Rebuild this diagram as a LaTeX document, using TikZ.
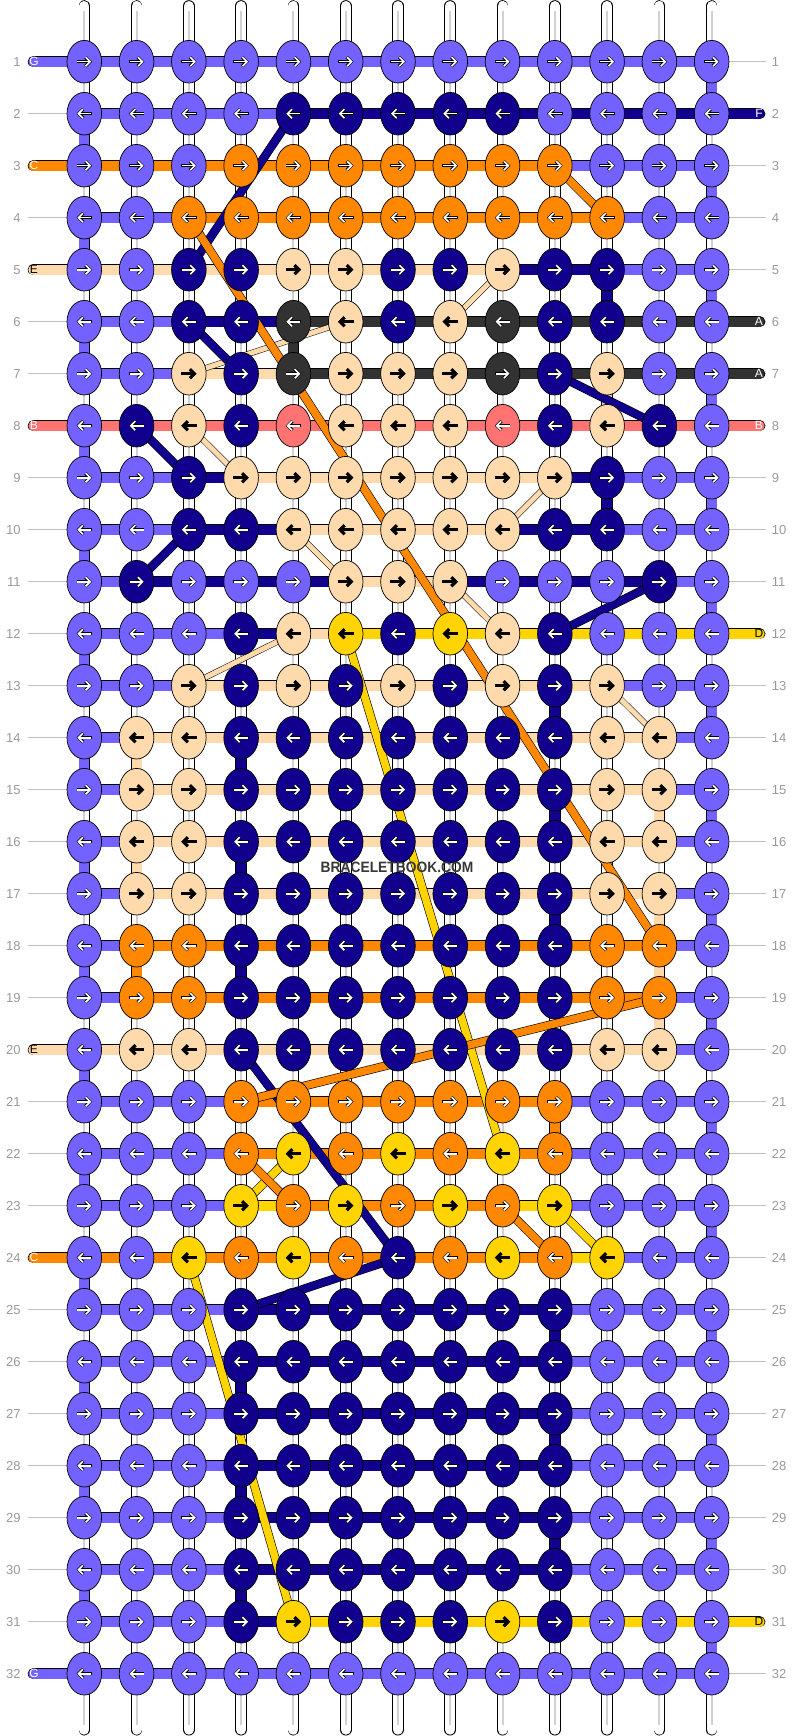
\documentclass[tikz,border=0pt]{standalone}
\usepackage{fontspec}
\setmainfont{Liberation Sans}
\usetikzlibrary{calc,arrows.meta,shapes.geometric}
\definecolor{bbP}{RGB}{115,98,255}
\definecolor{bbD}{RGB}{17,0,142}
\definecolor{bbO}{RGB}{255,136,0}
\definecolor{bbE}{RGB}{255,218,172}
\definecolor{bbK}{RGB}{50,50,50}
\definecolor{bbR}{RGB}{255,115,115}
\definecolor{bbY}{RGB}{255,212,0}
\colorlet{arrP}{white}
\colorlet{arrD}{white}
\colorlet{arrO}{white}
\colorlet{arrK}{white}
\colorlet{arrR}{white}
\colorlet{arrE}{black}
\colorlet{arrY}{black}
\tikzset{
  tube/.style={draw=black, line width=0.8pt, double=white, double distance=10pt, line cap=round},
  bar/.style={draw=black, line width=0.6pt, double distance=10pt},
  thread/.style={draw=black, line width=0.6pt, double distance=7.5pt},
  thinthread/.style={draw=black, line width=0.5pt, double distance=5pt, double=bbE},
  bead/.style={ellipse, draw=black, line width=0.7pt, minimum width=34.6pt, minimum height=42.6pt, inner sep=0pt},
  arrout/.style={draw=black, line width=3.2pt, -{Straight Barb[length=4.5pt,width=9pt]}},
  arrin/.style={line width=1.6pt, -{Straight Barb[length=4.5pt,width=9pt]}},
  guide/.style={draw=black!25, line width=0.8pt},
  rownum/.style={text=black!40, font=\fontsize{13}{13}\selectfont, inner sep=0pt},
  endtag/.style={font=\fontsize{12}{12}\selectfont, inner sep=0pt},
}
% row / knot colours / segment colours
\def\rowdata{%
1/{P,P,P,P,P,P,P,P,P,P,P,P,P}/{P,P,P,P,P,P,P,P,P,P,P,P},%
2/{P,P,P,P,D,D,D,D,D,P,P,P,P}/{P,P,P,P,D,D,D,D,D,D,D,D},%
3/{P,P,P,O,O,O,O,O,O,O,P,P,P}/{O,O,O,O,O,O,O,O,O,P,P,P},%
4/{P,P,O,O,O,O,O,O,O,O,O,P,P}/{P,P,O,O,O,O,O,O,O,O,P,P},%
5/{P,P,D,D,E,E,D,D,E,D,D,P,P}/{E,E,E,E,E,E,E,E,D,D,P,P},%
6/{P,P,D,D,K,E,D,E,K,D,D,P,P}/{P,P,D,D,K,K,K,K,K,K,K,K},%
7/{P,P,E,D,K,E,E,E,K,D,E,P,P}/{P,P,E,E,K,K,K,K,K,K,K,K},%
8/{P,D,E,D,R,E,E,E,R,D,E,D,P}/{R,R,R,R,R,R,R,R,R,R,R,R},%
9/{P,P,D,E,E,E,E,E,E,E,D,P,P}/{P,P,D,E,E,E,E,E,E,D,P,P},%
10/{P,P,D,D,E,E,E,E,E,D,D,P,P}/{P,P,D,D,E,E,E,E,D,D,P,P},%
11/{P,D,P,P,P,E,E,E,P,P,P,D,P}/{P,D,D,D,D,E,E,D,D,D,D,P},%
12/{P,P,P,D,E,Y,D,Y,E,D,P,P,P}/{P,P,P,D,E,Y,Y,Y,Y,Y,Y,Y},%
13/{P,P,E,D,E,D,E,D,E,D,E,P,P}/{P,P,E,E,E,E,E,E,E,E,P,P},%
14/{P,E,E,D,D,D,D,D,D,D,E,E,P}/{P,E,E,E,E,E,E,E,E,E,E,P},%
15/{P,E,E,D,D,D,D,D,D,D,E,E,P}/{P,E,E,E,E,E,E,E,E,E,E,P},%
16/{P,E,E,D,D,D,D,D,D,D,E,E,P}/{P,E,E,E,E,E,E,E,E,E,E,P},%
17/{P,E,E,D,D,D,D,D,D,D,E,E,P}/{P,E,E,E,E,E,E,E,E,E,E,P},%
18/{P,O,O,D,D,D,D,D,D,D,O,O,P}/{P,O,O,O,O,O,O,O,O,O,O,P},%
19/{P,O,O,D,D,D,D,D,D,D,O,O,P}/{P,O,O,O,O,O,O,O,O,O,O,P},%
20/{P,E,E,D,D,D,D,D,D,D,E,E,P}/{E,E,E,E,E,E,E,E,E,E,E,P},%
21/{P,P,P,O,O,O,O,O,O,O,P,P,P}/{P,P,P,O,O,O,O,O,O,P,P,P},%
22/{P,P,P,O,Y,O,Y,O,Y,O,P,P,P}/{P,P,P,O,O,O,O,O,O,P,P,P},%
23/{P,P,P,Y,O,Y,O,Y,O,Y,P,P,P}/{P,P,P,Y,O,O,O,O,Y,P,P,P},%
24/{P,P,Y,O,Y,O,D,O,Y,O,Y,P,P}/{O,O,O,O,O,O,O,O,O,Y,P,P},%
25/{P,P,P,D,D,D,D,D,D,D,P,P,P}/{P,P,P,D,D,D,D,D,D,P,P,P},%
26/{P,P,P,D,D,D,D,D,D,D,P,P,P}/{P,P,P,D,D,D,D,D,D,P,P,P},%
27/{P,P,P,D,D,D,D,D,D,D,P,P,P}/{P,P,P,D,D,D,D,D,D,P,P,P},%
28/{P,P,P,D,D,D,D,D,D,D,P,P,P}/{P,P,P,D,D,D,D,D,D,P,P,P},%
29/{P,P,P,D,D,D,D,D,D,D,P,P,P}/{P,P,P,D,D,D,D,D,D,P,P,P},%
30/{P,P,P,D,D,D,D,D,D,D,P,P,P}/{P,P,P,D,D,D,D,D,D,P,P,P},%
31/{P,P,P,D,Y,D,D,D,Y,D,P,P,P}/{P,P,P,D,Y,Y,Y,Y,Y,Y,Y,Y},%
32/{P,P,P,P,P,P,P,P,P,P,P,P,P}/{P,P,P,P,P,P,P,P,P,P,P,P}%
}

\begin{document}
\begin{tikzpicture}[x=1pt,y=-1pt]
		%%%%% START %%%%%
		\useasboundingbox (0,0) rectangle (792,1736);
		
		\foreach \r in {1,...,32}
			\foreach \c in {1,...,13}
				\coordinate (k-\r-\c) at ({84.3+52.28*(\c-1)},{61.7+52*(\r-1)});
		
		% strings
		\foreach \c in {1,...,13} {
			\draw[tube] ($(k-1-\c)+(0,-55.7)$) -- ($(k-32-\c)+(0,56)$);
			\draw[black!18, line width=2pt] ($(k-1-\c)+(0,-51)$) -- ($(k-32-\c)+(0,51)$);
		}
		
		% row numbers
		\foreach \r in {1,...,32} {
			\draw[guide] ($(k-\r-1)+(-56.5,0)$) -- (k-\r-1);
			\draw[guide] (k-\r-13) -- ($(k-\r-13)+(54,0)$);
			\node[rownum, anchor=east] (ln-\r) at ($(k-\r-1)+(-63.5,0)$) {\r};
			\node[rownum, anchor=west] (rn-\r) at ($(k-\r-13)+(60,0)$) {\r};
		}
		
		% thread ends
		\foreach \r/\t/\x in {1/G/P, 3/C/O, 5/E/E, 8/B/R, 20/E/E, 24/C/O, 32/G/P} {
			\draw[bar, double=bb\x, line cap=round] ($(k-\r-1)+(-51,0)$) -- (k-\r-1);
			\node[endtag, text=arr\x] (lt-\r) at ($(k-\r-1)+(-50.3,0)$) {\t};
		}
		\foreach \r/\t/\x in {2/F/D, 6/A/K, 7/A/K, 8/B/R, 12/D/Y, 31/D/Y} {
			\draw[bar, double=bb\x, line cap=round] (k-\r-13) -- ($(k-\r-13)+(48,0)$);
			\node[endtag, text=arr\x] (rt-\r) at ($(k-\r-13)+(47.3,0)$) {\t};
		}
		
		% rows
		\foreach \r/\ks/\ss in \rowdata {
			\foreach \x [count=\i] in \ss {
				\pgfmathtruncatemacro\j{\i+1}
				\draw[bar, double=bb\x] (k-\r-\i) -- (k-\r-\j);
			}
		}
		
		% turns
		\foreach \r [evaluate=\r as \rn using int(\r+1)] in {1,...,31} {
			\ifodd\r\relax
				\draw[bar, double=bbP] (k-\r-13) -- (k-\rn-13);
			\else
				\draw[bar, double=bbP] (k-\r-1) -- (k-\rn-1);
			\fi
		}
		\foreach \a/\b/\x in {5-11/6-11/D, 6-5/7-5/K, 7-11/8-11/E, 9-11/10-11/D,
			13-10/14-10/D, 14-2/15-2/E, 14-4/15-4/D, 15-10/16-10/D, 15-12/16-12/E,
			16-2/17-2/E, 16-4/17-4/D, 17-10/18-10/D, 17-12/18-12/E, 18-2/19-2/O,
			18-4/19-4/D, 18-12/19-12/E, 19-12/20-12/E, 21-10/22-10/O, 25-10/26-10/D,
			26-4/27-4/D, 27-10/28-10/D, 28-4/29-4/D, 29-10/30-10/D, 30-4/31-4/D}
			\draw[bar, double=bb\x] (k-\a) -- (k-\b);
		
		% crossing threads
		\foreach \a/\b in {5-9/6-8, 6-6/7-3, 8-3/9-4, 9-10/10-9, 10-5/11-6, 11-8/12-9, 12-5/13-3, 13-11/14-12}
			\draw[thinthread] (k-\a) -- (k-\b);
		\foreach \a/\b/\x in {2-5/5-3/D, 6-3/7-4/D, 7-10/8-12/D, 8-2/9-3/D, 10-3/11-2/D, 11-12/12-10/D,
			20-4/24-7/D, 24-7/25-4/D, 12-6/22-9/Y, 22-5/23-4/Y, 23-10/24-11/Y, 24-3/31-5/Y,
			3-10/4-11/O, 4-3/18-12/O, 19-12/21-4/O, 22-4/23-5/O, 23-9/24-10/O}
			\draw[thread, double=bb\x] (k-\a) -- (k-\b);
		
		% knots
		\foreach \r/\ks/\ss in \rowdata {
			\foreach \x [count=\i] in \ks {
				\node[bead, fill=bb\x] (n-\r-\i) at (k-\r-\i) {};
				\ifodd\r\relax
					\draw[arrout] ([xshift=-7.8pt]n-\r-\i.center) -- ([xshift=7.8pt]n-\r-\i.center);
					\draw[arrin, draw=arr\x] ([xshift=-7pt]n-\r-\i.center) -- ([xshift=7pt]n-\r-\i.center);
				\else
					\draw[arrout] ([xshift=7.8pt]n-\r-\i.center) -- ([xshift=-7.8pt]n-\r-\i.center);
					\draw[arrin, draw=arr\x] ([xshift=7pt]n-\r-\i.center) -- ([xshift=-7pt]n-\r-\i.center);
				\fi
			}
		}
		
		\node[font=\fontsize{15}{15}\selectfont\bfseries, text=black!78] (wm) at (397,867) {\scalebox{0.92}[1]{BRACELETBOOK.COM}};
		
		%%%%% END %%%%%
\end{tikzpicture}
\end{document}
